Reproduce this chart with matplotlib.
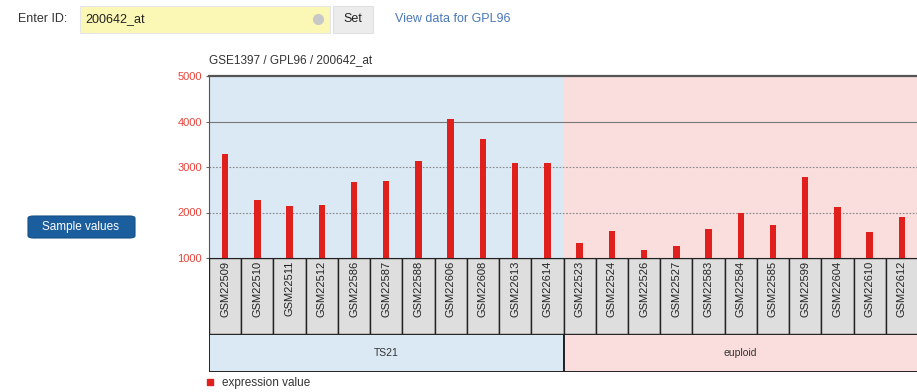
import numpy as np
import matplotlib
matplotlib.use("Agg")
import matplotlib.pyplot as plt
from matplotlib.patches import FancyBboxPatch
from matplotlib.lines import Line2D

plt.rcParams['font.family'] = ['Liberation Sans', 'DejaVu Sans']

samples = ['GSM22509', 'GSM22510', 'GSM22511', 'GSM22512', 'GSM22586', 'GSM22587',
           'GSM22588', 'GSM22606', 'GSM22608', 'GSM22613', 'GSM22614',
           'GSM22523', 'GSM22524', 'GSM22526', 'GSM22527', 'GSM22583', 'GSM22584',
           'GSM22585', 'GSM22599', 'GSM22604', 'GSM22610', 'GSM22612']
values = [3275, 2285, 2140, 2160, 2675, 2695, 3130, 4045, 3605, 3090, 3090,
          1330, 1600, 1185, 1270, 1630, 1990, 1735, 2790, 2115, 1575, 1910]
groups = ['TS21', 'euploid']
group_sizes = [11, 11]
group_colors = ['#dbe9f4', '#f9dedd']
yticks = [1000, 2000, 3000, 4000, 5000]

W, H = 917, 392


def px(l, t, r, b):
    return [l / W, 1 - b / H, (r - l) / W, (b - t) / H]


fig = plt.figure(figsize=(W / 100, H / 100), dpi=100)
fig.patch.set_facecolor('white')

x = np.arange(len(samples))
xlim = (-0.5, len(samples) - 0.5)

# main bar panel
ax = fig.add_axes(px(209, 76, 918, 258))
start = -0.5
for g, n, c in zip(groups, group_sizes, group_colors):
    ax.axvspan(start, start + n, color=c, zorder=0, lw=0)
    start += n
ax.bar(x, np.array(values) - 1000, bottom=1000, width=0.2, color='#e0201c', zorder=3)
ax.set_xlim(*xlim)
ax.set_ylim(1000, 5000)
ax.set_yticks(yticks)
ax.set_yticklabels([str(t) for t in yticks], color='#e8443a', fontsize=8)
ax.tick_params(axis='y', length=2, pad=3, color='#666666')
ax.set_xticks([])
ax.axhline(4000, color='#777777', lw=0.8, zorder=1)
for yv in (2000, 3000):
    ax.axhline(yv, color='#888888', lw=0.8, ls=(0, (1.5, 1.5)), zorder=1)
ax.spines['right'].set_visible(False)
ax.spines['top'].set_color('#555555')
ax.spines['top'].set_linewidth(1.6)
ax.spines['left'].set_color('#555555')
ax.spines['bottom'].set_color('#222222')

# sample label row
lax = fig.add_axes(px(209, 258, 918, 334))
lax.bar(x, 1, width=1, bottom=0, color='#dedede', edgecolor='#222222', lw=1.0)
for xi, s in zip(x, samples):
    lax.text(xi, 0.96, s, rotation=90, ha='center', va='top', fontsize=8, color='#222222')
lax.set_xlim(*xlim)
lax.set_ylim(0, 1)
lax.axis('off')

# group row
gax = fig.add_axes(px(209, 334, 918, 372))
centers = []
start = -0.5
for n in group_sizes:
    centers.append(start + n / 2)
    start += n
gax.bar(centers, 1, width=group_sizes, color=group_colors, edgecolor='#222222', lw=1.4)
for cx, g in zip(centers, groups):
    gax.text(cx, 0.5, g, ha='center', va='center', fontsize=7.5, color='#333333')
gax.set_xlim(*xlim)
gax.set_ylim(0, 1)
gax.axis('off')

# title and legend
fig.text(209 / W, 1 - 60 / H, 'GSE1397 / GPL96 / 200642_at', fontsize=8.5, color='#333333', va='center')
fig.add_artist(Line2D([210 / W], [1 - 382 / H], marker='s', markersize=4, color='#e0201c',
                      transform=fig.transFigure))
fig.text(222 / W, 1 - 383 / H, 'expression value', fontsize=8.5, color='#333333', va='center')

# top controls
fig.text(18 / W, 1 - 19 / H, 'Enter ID:', fontsize=9, color='#333333', va='center')
fig.add_artist(FancyBboxPatch((80 / W, 1 - 33 / H), 250 / W, 27 / H,
                              boxstyle='square,pad=0', transform=fig.transFigure,
                              facecolor='#fbf7b4', edgecolor='#e6e6e6', lw=0.8))
fig.text(85 / W, 1 - 19 / H, '200642_at', fontsize=9, color='#222222', va='center')
fig.add_artist(Line2D([318 / W], [1 - 19 / H], marker='o', markersize=7, color='#c8c8c8',
                      transform=fig.transFigure))
fig.add_artist(FancyBboxPatch((333 / W, 1 - 33 / H), 40 / W, 27 / H,
                              boxstyle='square,pad=0', transform=fig.transFigure,
                              facecolor='#ececec', edgecolor='#e0e0e0', lw=0.8))
fig.text(353 / W, 1 - 19 / H, 'Set', fontsize=9, color='#222222', va='center', ha='center')
fig.text(395 / W, 1 - 19 / H, 'View data for GPL96', fontsize=9, color='#4a78b8', va='center')

fig.add_artist(FancyBboxPatch((28 / W, 1 - 238 / H), 107 / W, 22 / H,
                              boxstyle='round,pad=0,rounding_size=0.006',
                              transform=fig.transFigure,
                              facecolor='#1b5e9e', edgecolor='#174f86', lw=0.8))
fig.text(81 / W, 1 - 227 / H, 'Sample values', fontsize=8.5, color='white', va='center', ha='center')

fig.savefig('out.png', dpi=100)
